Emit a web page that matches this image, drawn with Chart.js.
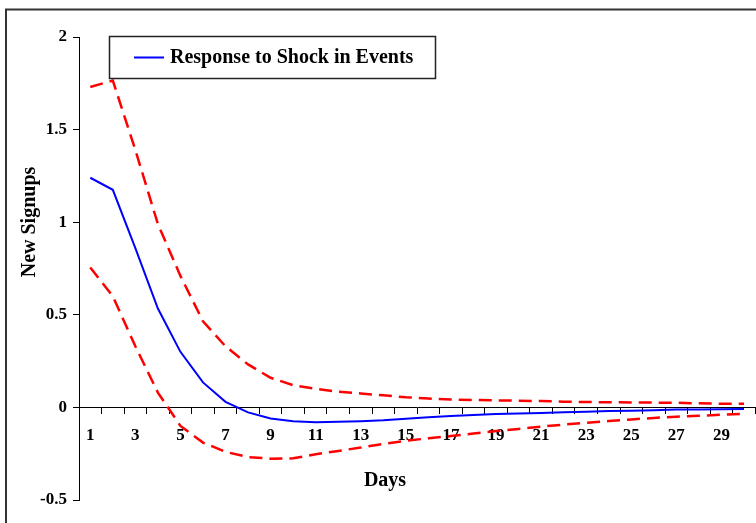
<!DOCTYPE html>
<html>
<head>
<meta charset="utf-8">
<script src="https://cdn.jsdelivr.net/npm/chart.js@4"></script>
<style>
  html, body { margin: 0; padding: 0; background: #fff; }
  canvas { display: block; }
</style>
</head>
<body>
<canvas id="irf" width="756" height="523"></canvas>
<script>
// Impulse response: new signups after a shock in events, with error bands

const days = [1, 2, 3, 4, 5, 6, 7, 8, 9, 10, 11, 12, 13, 14, 15,
              16, 17, 18, 19, 20, 21, 22, 23, 24, 25, 26, 27, 28, 29, 30];

const response = [1.24, 1.175, 0.86, 0.534, 0.30, 0.135, 0.03, -0.027, -0.06, -0.075,
                  -0.08, -0.078, -0.075, -0.07, -0.061, -0.053, -0.046, -0.041, -0.036, -0.033,
                  -0.03, -0.026, -0.023, -0.02, -0.018, -0.015, -0.012, -0.011, -0.01, -0.009];

const upperBand = [1.73, 1.765, 1.39, 0.99, 0.71, 0.465, 0.33, 0.232, 0.16, 0.12,
                   0.10, 0.085, 0.075, 0.065, 0.055, 0.048, 0.043, 0.04, 0.038, 0.036,
                   0.034, 0.031, 0.029, 0.028, 0.027, 0.026, 0.025, 0.022, 0.02, 0.02];

const lowerBand = [0.755, 0.60, 0.33, 0.08, -0.10, -0.19, -0.24, -0.268, -0.277, -0.275,
                   -0.253, -0.235, -0.217, -0.197, -0.18, -0.167, -0.155, -0.141, -0.128, -0.116,
                   -0.104, -0.093, -0.083, -0.074, -0.065, -0.057, -0.05, -0.045, -0.04, -0.034];

const seriesName = 'Response to Shock in Events';
const xTitle = 'Days';
const yTitle = 'New Signups';

const FONT = '"Liberation Serif", "Times New Roman", serif';

// Draws the outer frame, the boxed legend and both axis titles
const decorations = {
    id: 'decorations',
    afterDraw(chart) {
        const ctx = chart.ctx;
        ctx.save();

        // outer frame
        ctx.strokeStyle = '#333';
        ctx.lineWidth = 2;
        ctx.strokeRect(6, 9.5, 800, 600);

        // legend box
        const ds = chart.data.datasets[0];
        ctx.fillStyle = '#fff';
        ctx.fillRect(109, 36, 327, 43);
        ctx.strokeStyle = '#222';
        ctx.lineWidth = 1.5;
        ctx.strokeRect(109.5, 36.5, 326, 42);
        ctx.strokeStyle = ds.borderColor;
        ctx.lineWidth = 2;
        ctx.beginPath();
        ctx.moveTo(134, 57.5);
        ctx.lineTo(164, 57.5);
        ctx.stroke();
        ctx.fillStyle = '#000';
        ctx.font = 'bold 20px ' + FONT;
        ctx.textAlign = 'left';
        ctx.textBaseline = 'middle';
        ctx.fillText(ds.label, 170, 58);

        // axis titles
        ctx.textAlign = 'center';
        ctx.fillText(xTitle, 385, 481);
        ctx.translate(30, 222);
        ctx.rotate(-Math.PI / 2);
        ctx.fillText(yTitle, 0, 0);

        ctx.restore();
    }
};

const canvas = document.getElementById('irf');
const chart = new Chart(canvas.getContext('2d'), {
    type: 'line',
    data: {
        labels: days,
        datasets: [
            {
                label: seriesName,
                data: response,
                borderColor: '#0000ff',
                borderWidth: 2,
                pointRadius: 0,
                tension: 0,
                fill: false
            },
            {
                label: 'Upper',
                data: upperBand,
                borderColor: '#ff0000',
                borderWidth: 2.5,
                borderDash: [13, 7],
                pointRadius: 0,
                tension: 0,
                fill: false
            },
            {
                label: 'Lower',
                data: lowerBand,
                borderColor: '#ff0000',
                borderWidth: 2.5,
                borderDash: [13, 7],
                pointRadius: 0,
                tension: 0,
                fill: false
            }
        ]
    },
    options: {
        responsive: false,
        animation: false,
        events: [],
        layout: { padding: { left: 0, right: 0, top: 37, bottom: 23 } },
        plugins: {
            legend: { display: false },
            tooltip: { enabled: false }
        },
        scales: {
            x: {
                type: 'category',
                position: { y: 0 },
                offset: true,
                grid: {
                    offset: true,
                    drawOnChartArea: false,
                    drawTicks: true,
                    tickLength: 6,
                    color: '#000'
                },
                border: { display: true, color: '#000', width: 1 },
                ticks: {
                    autoSkip: false,
                    maxRotation: 0,
                    padding: 12,
                    color: '#000',
                    font: { family: FONT, size: 17, weight: 'bold' },
                    callback: function (value, index) {
                        return index % 2 === 0 ? this.getLabelForValue(value) : '';
                    }
                }
            },
            y: {
                min: -0.5,
                max: 2,
                afterFit: function (scale) { scale.width = 79; },
                grid: {
                    drawOnChartArea: false,
                    drawTicks: true,
                    tickLength: 6,
                    color: '#000'
                },
                border: { display: true, color: '#000', width: 1 },
                ticks: {
                    stepSize: 0.5,
                    padding: 6,
                    color: '#000',
                    font: { family: FONT, size: 17, weight: 'bold' },
                    callback: (value) => String(value)
                }
            }
        }
    },
    plugins: [decorations]
});
</script>
</body>
</html>
